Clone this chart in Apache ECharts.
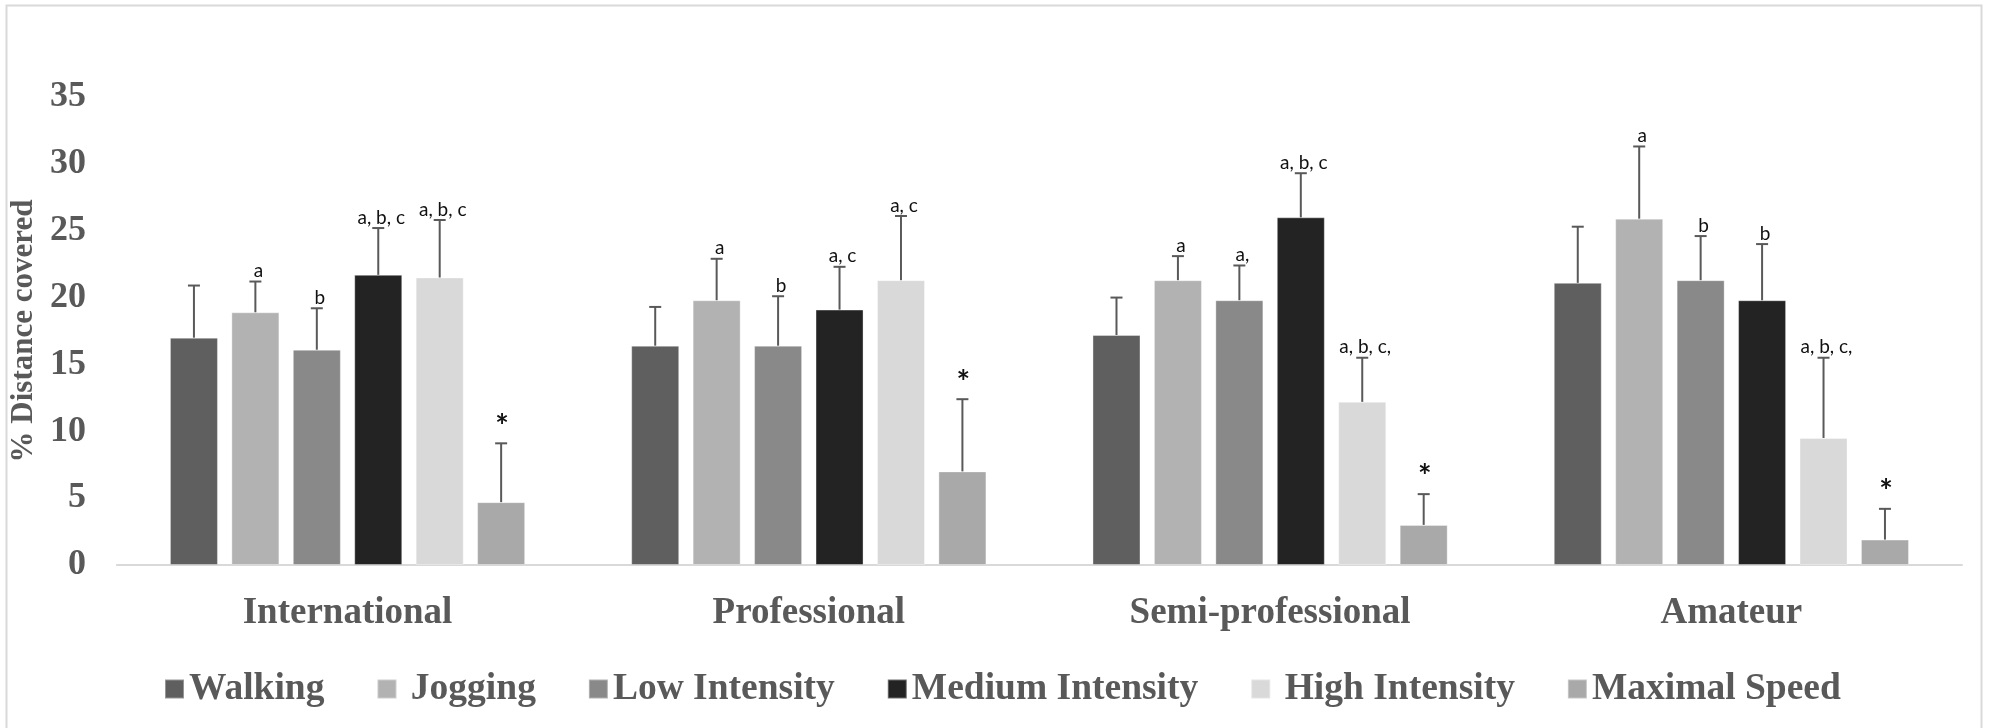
<!DOCTYPE html>
<html>
<head>
<meta charset="utf-8">
<script src="https://cdn.jsdelivr.net/npm/echarts@6/dist/echarts.min.js"></script>
<style>
html,body{margin:0;padding:0;background:#fff;}
#chart{width:1989px;height:728px;}
</style>
</head>
<body>
<div id="chart"></div>
<script>
// ---- Data ----
const categories = ['International', 'Professional', 'Semi-professional', 'Amateur'];
const seriesNames = ['Walking', 'Jogging', 'Low Intensity', 'Medium Intensity', 'High Intensity', 'Maximal Speed'];

const walking      = [17.0, 16.4, 17.2, 21.1];
const walkingErr   = [3.9, 2.9, 2.8, 4.2];
const jogging      = [18.9, 19.8, 21.3, 25.9];
const joggingErr   = [2.3, 3.1, 1.8, 5.4];
const lowInt       = [16.1, 16.4, 19.8, 21.3];
const lowIntErr    = [3.1, 3.7, 2.6, 3.3];
const mediumInt    = [21.7, 19.1, 26.0, 19.8];
const mediumIntErr = [3.5, 3.2, 3.3, 4.2];
const highInt      = [21.5, 21.3, 12.2, 9.5];
const highIntErr   = [4.3, 4.8, 3.3, 6.0];
const maximal      = [4.7, 7.0, 3.0, 1.9];
const maximalErr   = [4.4, 5.4, 2.3, 2.3];

const walkingMarks   = ['', '', '', ''];
const joggingMarks   = ['a', 'a', 'a', 'a'];
const lowIntMarks    = ['b', 'b', 'a,', 'b'];
const mediumIntMarks = ['a, b, c', 'a, c', 'a, b, c', 'b'];
const highIntMarks   = ['a, b, c', 'a, c', 'a, b, c,', 'a, b, c,'];
const maximalMarks   = ['*', '*', '*', '*'];

const yTicks = { min: 0, max: 35, interval: 5 };

// ---- Styling ----
const colors = ['#5f5f5f', '#b2b2b2', '#898989', '#232323', '#d9d9d9', '#a9a9a9'];
const BAR_W = 48;
const BAR_GAP = 0.28;
const SERIF = '"Liberation Serif", "Times New Roman", serif';
const SANS = 'Lato, "Open Sans", sans-serif';

const values = [walking, jogging, lowInt, mediumInt, highInt, maximal];
const errors = [walkingErr, joggingErr, lowIntErr, mediumIntErr, highIntErr, maximalErr];
const marks = [walkingMarks, joggingMarks, lowIntMarks, mediumIntMarks, highIntMarks, maximalMarks];

const barSeries = seriesNames.map((name, i) => ({
  name: name,
  type: 'bar',
  barWidth: BAR_W,
  barGap: (BAR_GAP * 100) + '%',
  itemStyle: { color: colors[i], borderColor: 'rgba(255,255,255,0.35)', borderWidth: 1 },
  data: values[i],
  z: 2
}));

const errSeries = seriesNames.map((name, i) => ({
  type: 'custom',
  name: name + ' error',
  z: 5,
  silent: true,
  encode: { x: 0, y: 1 },
  data: categories.map((c, k) => [k, values[i][k], errors[i][k]]),
  renderItem: function (params, api) {
    const k = api.value(0);
    const v = api.value(1);
    const e = api.value(2);
    const label = marks[i][k];
    const base = api.coord([k, v]);
    const top = api.coord([k, v + e]);
    const x = base[0] + (i - 2.5) * BAR_W * (1 + BAR_GAP);
    const lineStyle = { stroke: '#595959', lineWidth: 2 };
    const children = [
      { type: 'line', shape: { x1: x, y1: base[1], x2: x, y2: top[1] }, style: lineStyle },
      { type: 'line', shape: { x1: x - 6, y1: top[1], x2: x + 6, y2: top[1] }, style: lineStyle }
    ];
    if (label) {
      const isStar = label === '*';
      children.push({
        type: 'text',
        x: x + (isStar ? 1 : 3),
        y: top[1] - (isStar ? 0 : 1),
        style: {
          text: label,
          align: 'center',
          verticalAlign: 'bottom',
          fill: '#111',
          font: (isStar ? 'bold 32px ' : '19px ') + SANS
        }
      });
    }
    return { type: 'group', children: children };
  }
}));

const chart = echarts.init(document.getElementById('chart'), null, { renderer: 'canvas' });
chart.setOption({
  backgroundColor: '#fff',
  animation: false,
  graphic: [{
    type: 'rect',
    shape: { x: 6.5, y: 5.5, width: 1975, height: 760 },
    style: { fill: 'none', stroke: '#d9d9d9', lineWidth: 2 },
    silent: true
  }],
  grid: { left: 114, right: 27, top: 97, bottom: 163, containLabel: false },
  legend: {
    data: seriesNames,
    left: 159,
    top: 665,
    icon: 'rect',
    itemWidth: 19,
    itemHeight: 19,
    itemGap: 52,
    formatter: function (n) { return (n === 'Jogging' || n === 'High Intensity') ? ' ' + n : n; },
    textStyle: { fontFamily: SERIF, fontWeight: 'bold', fontSize: 37.5, color: '#595959' }
  },
  xAxis: {
    type: 'category',
    data: categories,
    axisLine: { lineStyle: { color: '#d9d9d9', width: 2 } },
    axisTick: { show: false },
    axisLabel: { fontFamily: SERIF, fontWeight: 'bold', fontSize: 37, color: '#595959', margin: 30 }
  },
  yAxis: {
    type: 'value',
    min: yTicks.min,
    max: yTicks.max,
    interval: yTicks.interval,
    name: '% Distance covered',
    nameLocation: 'middle',
    nameRotate: 90,
    nameGap: 64,
    nameTextStyle: { fontFamily: SERIF, fontWeight: 'bold', fontSize: 31, color: '#595959' },
    axisLine: { show: false },
    axisTick: { show: false },
    splitLine: { show: false },
    axisLabel: { fontFamily: SERIF, fontWeight: 'bold', fontSize: 36, color: '#595959', margin: 31 }
  },
  series: barSeries.concat(errSeries)
});
</script>
</body>
</html>
